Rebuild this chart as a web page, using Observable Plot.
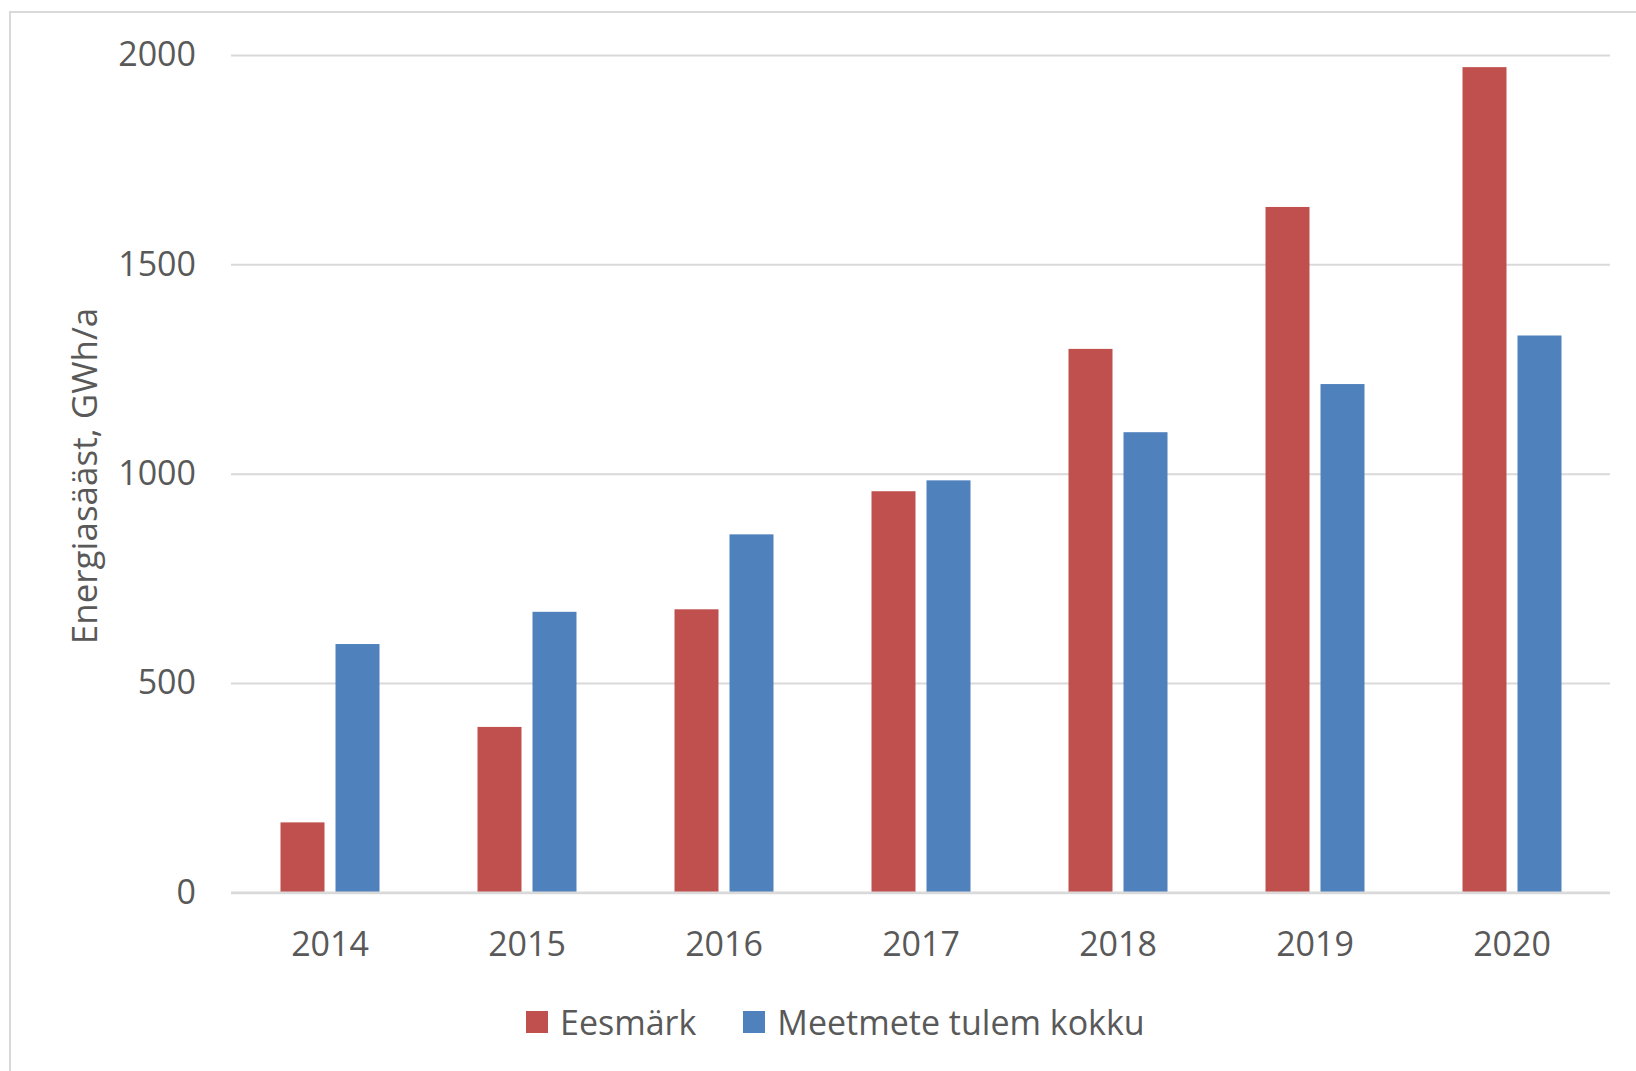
<!DOCTYPE html>
<html>
<head>
<meta charset="utf-8">
<script src="https://cdn.jsdelivr.net/npm/d3@7"></script>
<script src="https://cdn.jsdelivr.net/npm/@observablehq/plot@0.6"></script>
<style>
  html, body { margin: 0; padding: 0; background: #fff; overflow: hidden; }
  body { width: 1636px; height: 1071px; position: relative; font-family: "Open Sans", sans-serif; color: #595959; }
  #frame { position: absolute; left: 9px; top: 11px; width: 1700px; height: 1100px; border: 2px solid #d9d9d9; box-sizing: border-box; }
  #chart { position: absolute; left: 0; top: 0; }
  #ytitle { position: absolute; left: 83px; top: 476px; transform: translate(-50%, -50%) rotate(-90deg); white-space: nowrap; font-size: 35px; line-height: 1; }
  #legend { position: absolute; left: 526px; top: 1003px; display: flex; align-items: center; font-size: 34px; line-height: 38px; }
  .item { display: flex; align-items: center; margin-right: 47px; }
  .sw { width: 22px; height: 22px; margin-right: 12px; }
</style>
</head>
<body>
<div id="frame"></div>
<div id="chart"></div>
<div id="ytitle"></div>
<div id="legend"></div>
<script>
const years = ["2014", "2015", "2016", "2017", "2018", "2019", "2020"];
const series = ["Eesmärk", "Meetmete tulem kokku"];
const eesmark = [167, 395, 676, 958, 1298, 1637, 1971];
const meetmete = [593, 670, 855, 984, 1099, 1214, 1330];
const yTicks = [0, 500, 1000, 1500, 2000];
const colors = ["#c0504d", "#4f81bd"];
const yTitle = "Energiasääst, GWh/a";

const data = years.flatMap((yr, i) => [
  {year: yr, series: series[0], value: eesmark[i]},
  {year: yr, series: series[1], value: meetmete[i]}
]);

const chart = Plot.plot({
  width: 1636,
  height: 980,
  marginLeft: 228.5,
  marginRight: 23,
  marginTop: 55,
  marginBottom: 87.7,
  style: {fontFamily: "Open Sans", fontSize: "34px", color: "#595959", background: "transparent", overflow: "visible"},
  fx: {domain: years, padding: 0, label: null, axis: "bottom", tickSize: 0, tickPadding: 39},
  x: {domain: series, paddingInner: 0.2, paddingOuter: 0.86, axis: null},
  y: {domain: [0, 2000], ticks: yTicks, tickSize: 0, tickPadding: 35.5, tickFormat: d3.format("d"), label: null},
  color: {domain: series, range: colors},
  marks: [
    Plot.ruleY(yTicks.filter(d => d > 0), {stroke: "#d9d9d9", strokeWidth: 2}),
    Plot.barY(data, {fx: "year", x: "series", y: "value", fill: "series"}),
    Plot.ruleY([0], {stroke: "#d9d9d9", strokeWidth: 2.7})
  ]
});
document.getElementById("chart").appendChild(chart);
document.getElementById("ytitle").textContent = yTitle;

const legend = document.getElementById("legend");
series.forEach((s, i) => {
  const item = document.createElement("div");
  item.className = "item";
  const sw = document.createElement("div");
  sw.className = "sw";
  sw.style.background = colors[i];
  const label = document.createElement("span");
  label.textContent = s;
  item.appendChild(sw);
  item.appendChild(label);
  legend.appendChild(item);
});
</script>
</body>
</html>
